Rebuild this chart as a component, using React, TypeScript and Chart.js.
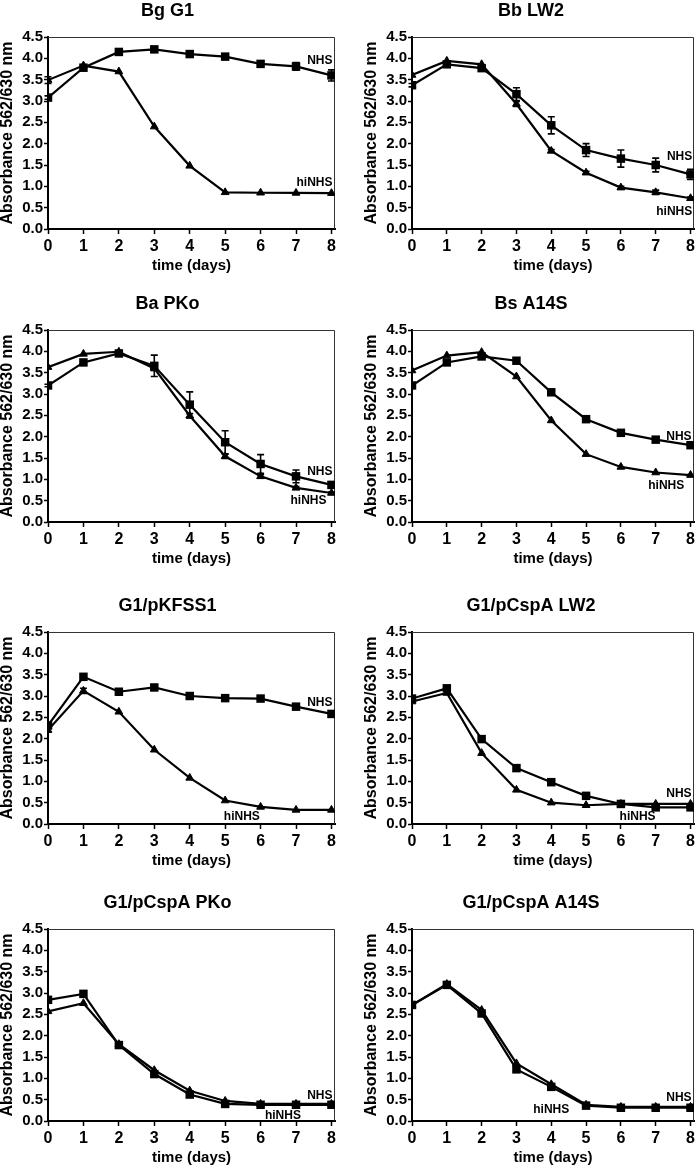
import React, { useEffect, useRef } from "react";
import { Chart, registerables } from "chart.js";

Chart.register(...registerables);

// ---------- data ----------
const days = [0, 1, 2, 3, 4, 5, 6, 7, 8];
const yTickValues = [0, 0.5, 1, 1.5, 2, 2.5, 3, 3.5, 4, 4.5];
const xAxisTitle = "time (days)";
const yAxisTitle = "Absorbance 562/630 nm";
const nhsName = "NHS";
const hiName = "hiNHS";

const titles = [
  "Bg G1",
  "Bb LW2",
  "Ba PKo",
  "Bs A14S",
  "G1/pKFSS1",
  "G1/pCspA LW2",
  "G1/pCspA PKo",
  "G1/pCspA A14S",
];

// Bg G1
const nhsBgG1 = [3.08, 3.78, 4.15, 4.21, 4.1, 4.04, 3.87, 3.81, 3.6];
const nhsErrBgG1 = [0.04, 0.03, 0.03, 0.03, 0.03, 0.03, 0.05, 0.09, 0.13];
const hiBgG1 = [3.49, 3.83, 3.69, 2.4, 1.48, 0.86, 0.85, 0.845, 0.84];
const hiErrBgG1 = [0.08, 0, 0, 0, 0, 0, 0, 0, 0];

// Bb LW2
const nhsBbLW2 = [3.37, 3.86, 3.77, 3.16, 2.43, 1.85, 1.65, 1.5, 1.28];
const nhsErrBbLW2 = [0.04, 0.03, 0.05, 0.15, 0.2, 0.15, 0.2, 0.16, 0.12];
const hiBbLW2 = [3.61, 3.94, 3.86, 2.93, 1.83, 1.32, 0.97, 0.86, 0.72];
const hiErrBbLW2 = [0, 0, 0, 0.06, 0.03, 0.03, 0.03, 0.05, 0.03];

// Ba PKo
const nhsBaPKo = [3.2, 3.74, 3.95, 3.66, 2.75, 1.87, 1.36, 1.07, 0.87];
const nhsErrBaPKo = [0.03, 0.03, 0.04, 0.25, 0.3, 0.27, 0.22, 0.15, 0.05];
const hiBaPKo = [3.63, 3.94, 3.99, 3.6, 2.49, 1.54, 1.07, 0.8, 0.68];
const hiErrBaPKo = [0, 0, 0, 0.05, 0.05, 0.05, 0.04, 0.03, 0.02];

// Bs A14S
const nhsBsA14S = [3.2, 3.74, 3.88, 3.78, 3.04, 2.41, 2.09, 1.93, 1.8];
const nhsErrBsA14S = [0, 0, 0, 0, 0, 0, 0, 0, 0];
const hiBsA14S = [3.55, 3.9, 3.98, 3.41, 2.38, 1.59, 1.29, 1.16, 1.1];
const hiErrBsA14S = [0, 0, 0, 0, 0, 0, 0, 0, 0];

// G1/pKFSS1
const nhsKFSS1 = [2.31, 3.45, 3.1, 3.2, 3.0, 2.95, 2.94, 2.75, 2.58];
const nhsErrKFSS1 = [0, 0, 0, 0, 0, 0, 0, 0, 0];
const hiKFSS1 = [2.2, 3.12, 2.63, 1.74, 1.08, 0.55, 0.4, 0.33, 0.33];
const hiErrKFSS1 = [0, 0.06, 0, 0, 0, 0, 0, 0, 0];

// G1/pCspA LW2
const nhsCspLW2 = [2.94, 3.18, 1.99, 1.31, 0.98, 0.66, 0.47, 0.39, 0.39];
const nhsErrCspLW2 = [0, 0, 0, 0, 0, 0, 0, 0, 0];
const hiCspLW2 = [2.87, 3.07, 1.66, 0.8, 0.5, 0.44, 0.47, 0.47, 0.47];
const hiErrCspLW2 = [0, 0, 0, 0, 0, 0, 0, 0, 0];

// G1/pCspA PKo
const nhsCspPKo = [2.84, 2.98, 1.78, 1.1, 0.62, 0.4, 0.38, 0.38, 0.38];
const nhsErrCspPKo = [0, 0, 0, 0, 0, 0, 0, 0, 0];
const hiCspPKo = [2.57, 2.76, 1.8, 1.19, 0.71, 0.47, 0.4, 0.4, 0.4];
const hiErrCspPKo = [0, 0, 0, 0, 0, 0, 0, 0, 0];

// G1/pCspA A14S
const nhsCspA14S = [2.72, 3.19, 2.52, 1.21, 0.8, 0.36, 0.31, 0.31, 0.31];
const nhsErrCspA14S = [0, 0, 0, 0, 0, 0, 0, 0, 0];
const hiCspA14S = [2.72, 3.21, 2.6, 1.35, 0.86, 0.38, 0.33, 0.33, 0.33];
const hiErrCspA14S = [0, 0, 0, 0, 0, 0, 0, 0, 0];

// ---------- panel configuration (layout + label anchors) ----------
type Label = { text: string; x: number; y: number; align: CanvasTextAlign };
type Panel = {
  title: string;
  nhs: number[];
  nhsErr: number[];
  hi: number[];
  hiErr: number[];
  labels: Label[];
  col: number;
  row: number;
};

const panels: Panel[] = [
  {
    title: titles[0], nhs: nhsBgG1, nhsErr: nhsErrBgG1, hi: hiBgG1, hiErr: hiErrBgG1, col: 0, row: 0,
    labels: [
      { text: nhsName, x: 8.03, y: 3.94, align: "right" },
      { text: hiName, x: 8.03, y: 1.08, align: "right" },
    ],
  },
  {
    title: titles[1], nhs: nhsBbLW2, nhsErr: nhsErrBbLW2, hi: hiBbLW2, hiErr: hiErrBbLW2, col: 1, row: 0,
    labels: [
      { text: nhsName, x: 8.05, y: 1.7, align: "right" },
      { text: hiName, x: 8.05, y: 0.4, align: "right" },
    ],
  },
  {
    title: titles[2], nhs: nhsBaPKo, nhsErr: nhsErrBaPKo, hi: hiBaPKo, hiErr: hiErrBaPKo, col: 0, row: 1,
    labels: [
      { text: nhsName, x: 8.03, y: 1.19, align: "right" },
      { text: hiName, x: 7.86, y: 0.51, align: "right" },
    ],
  },
  {
    title: titles[3], nhs: nhsBsA14S, nhsErr: nhsErrBsA14S, hi: hiBsA14S, hiErr: hiErrBsA14S, col: 1, row: 1,
    labels: [
      { text: nhsName, x: 8.03, y: 2.01, align: "right" },
      { text: hiName, x: 7.82, y: 0.86, align: "right" },
    ],
  },
  {
    title: titles[4], nhs: nhsKFSS1, nhsErr: nhsErrKFSS1, hi: hiKFSS1, hiErr: hiErrKFSS1, col: 0, row: 2,
    labels: [
      { text: nhsName, x: 8.03, y: 2.84, align: "right" },
      { text: hiName, x: 5.47, y: 0.16, align: "center" },
    ],
  },
  {
    title: titles[5], nhs: nhsCspLW2, nhsErr: nhsErrCspLW2, hi: hiCspLW2, hiErr: hiErrCspLW2, col: 1, row: 2,
    labels: [
      { text: nhsName, x: 8.03, y: 0.72, align: "right" },
      { text: hiName, x: 6.48, y: 0.16, align: "center" },
    ],
  },
  {
    title: titles[6], nhs: nhsCspPKo, nhsErr: nhsErrCspPKo, hi: hiCspPKo, hiErr: hiErrCspPKo, col: 0, row: 3,
    labels: [
      { text: nhsName, x: 8.03, y: 0.59, align: "right" },
      { text: hiName, x: 6.63, y: 0.13, align: "center" },
    ],
  },
  {
    title: titles[7], nhs: nhsCspA14S, nhsErr: nhsErrCspA14S, hi: hiCspA14S, hiErr: hiErrCspA14S, col: 1, row: 3,
    labels: [
      { text: nhsName, x: 8.03, y: 0.55, align: "right" },
      { text: hiName, x: 4.0, y: 0.27, align: "center" },
    ],
  },
];

const CANVAS_W = 350;
const CANVAS_H = 275;
const rowTops = [0, 293, 595, 892];
const colLefts = [0, 350];

const SANS = "'Liberation Sans', Arial, Helvetica, sans-serif";

// ---------- plugins ----------
const errorBarPlugin = {
  id: "errorBars",
  afterDatasetsDraw(chart: any) {
    const ctx = chart.ctx;
    const xs = chart.scales.x;
    const ys = chart.scales.y;
    ctx.save();
    ctx.strokeStyle = "#000";
    ctx.lineWidth = 1.6;
    chart.data.datasets.forEach((ds: any) => {
      const errs: number[] = ds.errors || [];
      ds.data.forEach((p: any, i: number) => {
        const e = errs[i] || 0;
        if (e <= 0) return;
        const x = xs.getPixelForValue(p.x);
        const y1 = ys.getPixelForValue(p.y + e);
        const y2 = ys.getPixelForValue(p.y - e);
        ctx.beginPath();
        ctx.moveTo(x, y1);
        ctx.lineTo(x, y2);
        ctx.moveTo(x - 3.5, y1);
        ctx.lineTo(x + 3.5, y1);
        ctx.moveTo(x - 3.5, y2);
        ctx.lineTo(x + 3.5, y2);
        ctx.stroke();
      });
    });
    ctx.restore();
  },
};

const framePlugin = {
  id: "frame",
  beforeDatasetsDraw(chart: any) {
    const { ctx, chartArea } = chart;
    ctx.save();
    ctx.strokeStyle = "#333";
    ctx.lineWidth = 1;
    ctx.beginPath();
    ctx.moveTo(chartArea.left, chartArea.top + 0.5);
    ctx.lineTo(chartArea.right - 0.5, chartArea.top + 0.5);
    ctx.lineTo(chartArea.right - 0.5, chartArea.bottom);
    ctx.stroke();
    ctx.restore();
  },
};

const seriesLabelPlugin = {
  id: "seriesLabels",
  afterDraw(chart: any, _args: any, opts: any) {
    const labels: Label[] = opts.items || [];
    const ctx = chart.ctx;
    const xs = chart.scales.x;
    const ys = chart.scales.y;
    ctx.save();
    ctx.fillStyle = "#000";
    ctx.font = `bold 12px ${SANS}`;
    ctx.textBaseline = "middle";
    labels.forEach((l) => {
      ctx.textAlign = l.align;
      ctx.fillText(l.text, xs.getPixelForValue(l.x), ys.getPixelForValue(l.y));
    });
    ctx.restore();
  },
};

function PanelChart({ panel }: { panel: Panel }) {
  const ref = useRef<HTMLCanvasElement | null>(null);
  useEffect(() => {
    if (!ref.current) return;
    const isRight = panel.col === 1;
    const chart = new Chart(ref.current, {
      type: "line",
      data: {
        datasets: [
          {
            label: hiName,
            data: days.map((d, i) => ({ x: d, y: panel.hi[i] })),
            errors: panel.hiErr,
            borderColor: "#000",
            borderWidth: 2.2,
            pointStyle: "triangle",
            pointRadius: 4.5,
            pointBackgroundColor: "#000",
            pointBorderColor: "#000",
            pointBorderWidth: 1,
            tension: 0,
          } as any,
          {
            label: nhsName,
            data: days.map((d, i) => ({ x: d, y: panel.nhs[i] })),
            errors: panel.nhsErr,
            borderColor: "#000",
            borderWidth: 2.2,
            pointStyle: "rect",
            pointRadius: 6,
            pointBackgroundColor: "#000",
            pointBorderColor: "#000",
            pointBorderWidth: 0,
            tension: 0,
          } as any,
        ],
      },
      options: {
        responsive: false,
        animation: false,
        events: [],
        layout: {
          padding: { left: isRight ? 14 : 0, right: isRight ? 2 : 15, top: 0, bottom: 0 },
        },
        plugins: {
          legend: { display: false },
          tooltip: { enabled: false },
          title: {
            display: true,
            text: panel.title,
            color: "#000",
            font: { family: SANS, size: 18, weight: "bold" },
            padding: { top: 0, bottom: 15.4 },
          },
          seriesLabels: { items: panel.labels },
        } as any,
        scales: {
          x: {
            type: "linear",
            min: 0,
            max: 8.1,
            afterBuildTicks: (scale: any) => {
              scale.ticks = days.map((v) => ({ value: v }));
            },
            afterFit: (scale: any) => {
              scale.height = 46;
            },
            grid: {
              display: true,
              drawOnChartArea: false,
              drawTicks: true,
              tickLength: 5,
              tickWidth: 1.5,
              tickColor: "#000",
            },
            border: { display: true, color: "#000", width: 2 },
            ticks: {
              color: "#000",
              padding: 3,
              font: { family: SANS, size: 16, weight: "bold" },
              callback: (v: any) => String(v),
            },
            title: {
              display: true,
              text: xAxisTitle,
              color: "#000",
              font: { family: SANS, size: 15, weight: "bold", lineHeight: 1.2 },
              padding: { top: 0, bottom: 0 },
            },
          },
          y: {
            type: "linear",
            min: 0,
            max: 4.5,
            afterBuildTicks: (scale: any) => {
              scale.ticks = yTickValues.map((v) => ({ value: v }));
            },
            afterFit: (scale: any) => {
              scale.width = 48;
            },
            grid: {
              display: true,
              drawOnChartArea: false,
              drawTicks: true,
              tickLength: 4,
              tickWidth: 1.5,
              tickColor: "#000",
            },
            border: { display: true, color: "#000", width: 2 },
            ticks: {
              color: "#000",
              padding: 1,
              font: { family: SANS, size: 15, weight: "bold" },
              callback: (v: any) => Number(v).toFixed(1),
            },
            title: {
              display: true,
              text: yAxisTitle,
              color: "#000",
              font: { family: SANS, size: 16, weight: "bold", lineHeight: 1 },
              padding: { top: 0, bottom: 0 },
            },
          },
        },
      },
      plugins: [framePlugin, errorBarPlugin, seriesLabelPlugin],
    } as any);
    return () => chart.destroy();
  }, [panel]);

  return (
    <canvas
      ref={ref}
      width={CANVAS_W}
      height={CANVAS_H}
      style={{
        position: "absolute",
        left: colLefts[panel.col],
        top: rowTops[panel.row],
        width: CANVAS_W,
        height: CANVAS_H,
        display: "block",
      }}
    />
  );
}

export default function App() {
  return (
    <div
      style={{
        position: "absolute",
        left: 0,
        top: 0,
        width: 700,
        height: 1166,
        background: "#fff",
        overflow: "hidden",
      }}
    >
      {panels.map((p, i) => (
        <PanelChart key={i} panel={p} />
      ))}
    </div>
  );
}
